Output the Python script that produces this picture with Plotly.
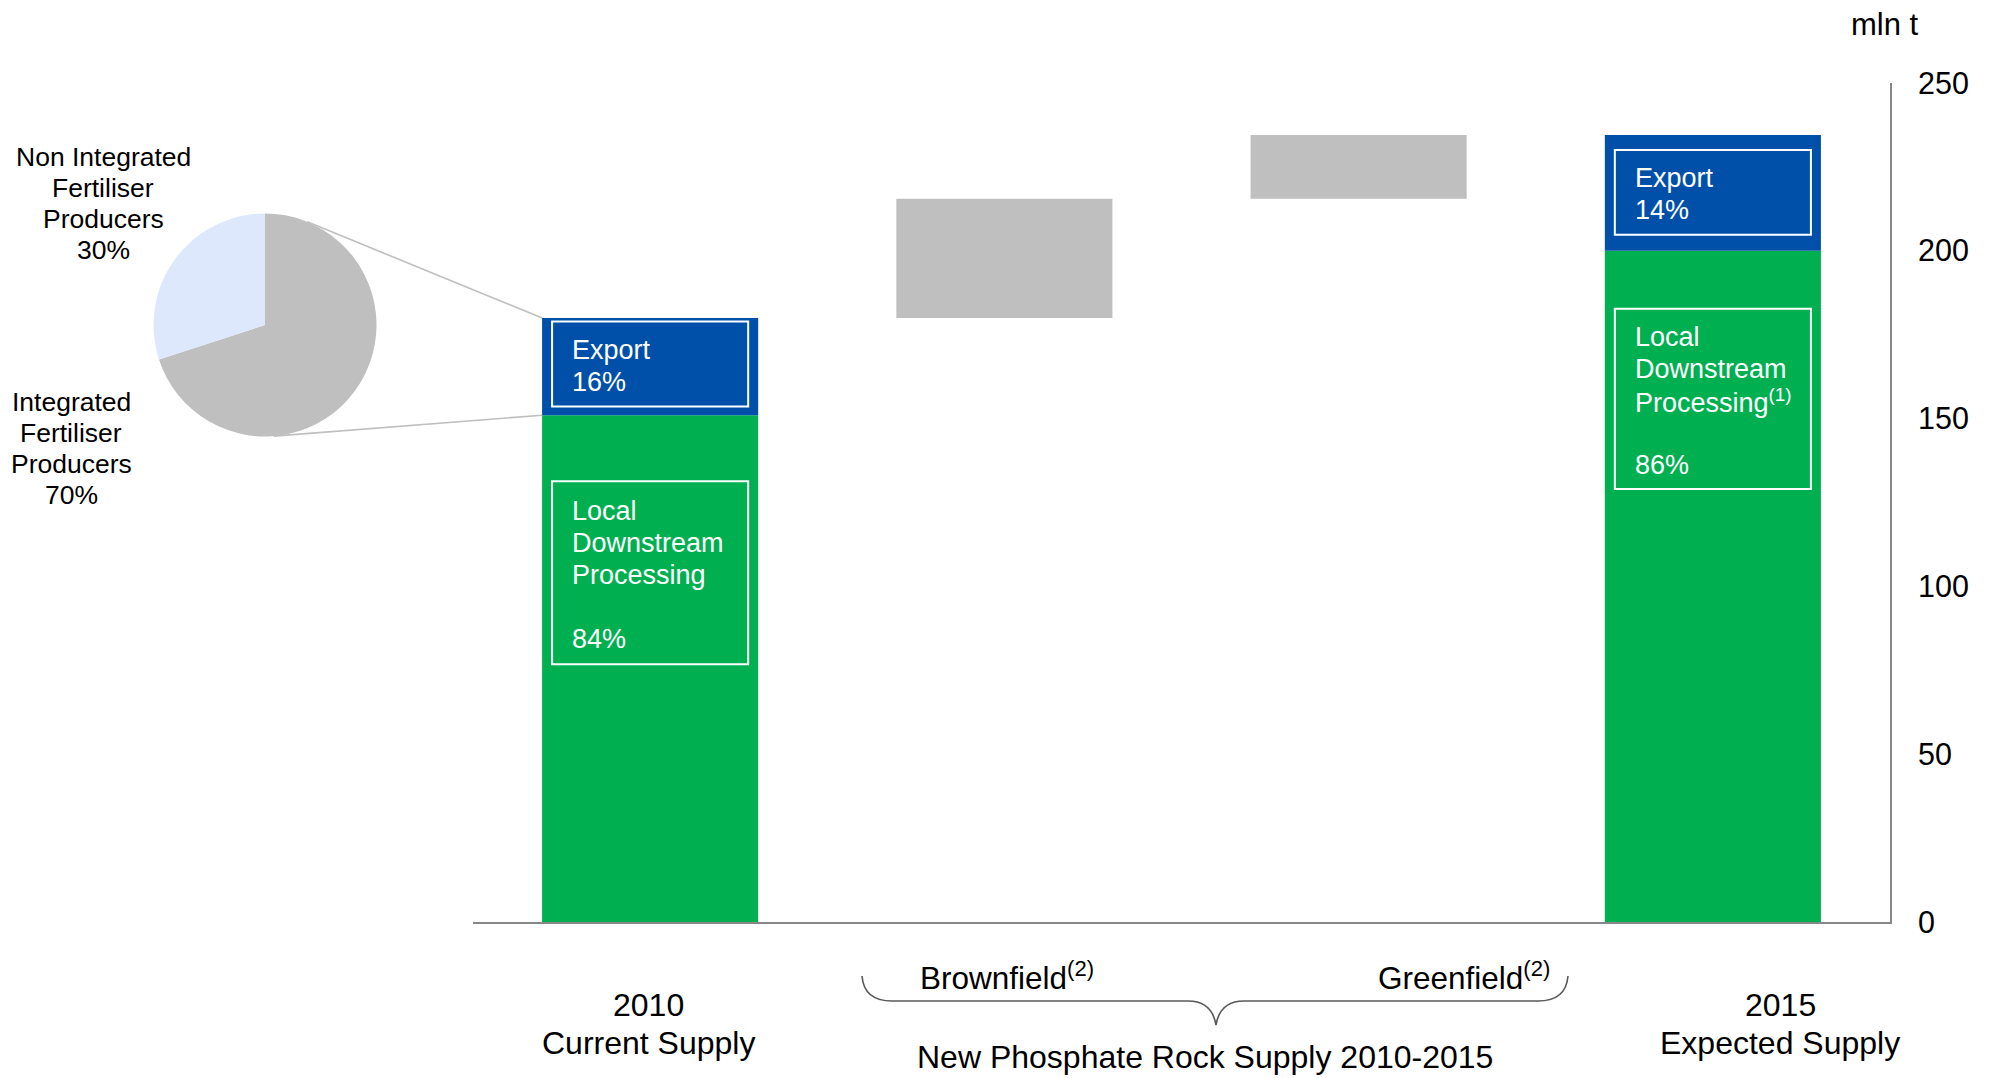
import math
import plotly.graph_objects as go

# ---------------- data ----------------
categories = ["2010 Current Supply", "Brownfield", "Greenfield", "2015 Expected Supply"]
local_values = [151, 200]          # Local Downstream Processing (2010, 2015), mln t
export_values = [29, 34.5]         # Export (2010, 2015), mln t
new_supply_values = [35.5, 19]     # Brownfield, Greenfield additions, mln t
export_share = ["16%", "14%"]
local_share = ["84%", "86%"]
pie_labels = ["Non Integrated Fertiliser Producers", "Integrated Fertiliser Producers"]
pie_values = [30, 70]
y_ticks = [0, 50, 100, 150, 200, 250]

# ---------------- layout constants (screen pixels) ----------------
W, H = 1995, 1078
OFF = 8                      # page body offset
PL, PR, PT, PB = 473, 1890, 83, 922
XMIN, XMAX, YMIN, YMAX = -0.5, 3.5, 0, 250
BAR_W = 0.61
FONT = "Liberation Sans, Arial, sans-serif"
GREEN, BLUE, GREY, LIGHT = "#00B050", "#0050AA", "#BFBFBF", "#DEE8FC"
AXIS_C = "#878787"

def fx(px):
    return (px - OFF) / W

def fy(py):
    return 1 - (py - OFF) / H

def data_px_x(v):
    return PL + (v - XMIN) / (XMAX - XMIN) * (PR - PL)

def data_px_y(v):
    return PB - (v - YMIN) / (YMAX - YMIN) * (PB - PT)

end_x = [categories[0], categories[3]]
total_2010 = local_values[0] + export_values[0]
new_bases = [total_2010, total_2010 + new_supply_values[0]]

fig = go.Figure()
fig.add_trace(go.Bar(x=end_x, y=local_values, base=[0, 0], width=BAR_W,
                     marker=dict(color=GREEN, line=dict(width=0)), hoverinfo="skip"))
fig.add_trace(go.Bar(x=end_x, y=export_values, base=local_values, width=BAR_W,
                     marker=dict(color=BLUE, line=dict(width=0)), hoverinfo="skip"))
fig.add_trace(go.Bar(x=categories[1:3], y=new_supply_values, base=new_bases, width=BAR_W,
                     marker=dict(color=GREY, line=dict(width=0)), hoverinfo="skip"))

# pie (integrated slice drawn first clockwise from 12 o'clock, non-integrated closes on the left)
PIE_CX, PIE_CY, PIE_R = 265, 325, 111.5
pie_colors = [LIGHT, GREY]
fig.add_trace(go.Pie(labels=pie_labels[::-1], values=pie_values[::-1], sort=False,
                     direction="clockwise", rotation=0,
                     marker=dict(colors=pie_colors[::-1], line=dict(width=0)),
                     textinfo="none", hoverinfo="skip", showlegend=False,
                     domain=dict(x=[fx(PIE_CX - PIE_R), fx(PIE_CX + PIE_R)],
                                 y=[fy(PIE_CY + PIE_R), fy(PIE_CY - PIE_R)])))

shapes = []
annotations = []

# white label boxes inside bars
box_spans = {0: [(153.6, 178.9), (76.8, 131.3)], 3: [(204.8, 230.0), (129.0, 182.7)]}
inset = 10 / (PR - PL) * (XMAX - XMIN)
for i, spans in box_spans.items():
    for (y0, y1) in spans:
        shapes.append(dict(type="rect", xref="x", yref="y",
                           x0=i - BAR_W / 2 + inset, x1=i + BAR_W / 2 - inset,
                           y0=y0, y1=y1, line=dict(color="white", width=2),
                           fillcolor="rgba(0,0,0,0)", layer="above"))

def add_lines(lines, x_px, y0_px, spacing, size, align="left", color="black"):
    for k, t in enumerate(lines):
        if not t:
            continue
        annotations.append(dict(text=t, x=fx(x_px), y=fy(y0_px + k * spacing),
                                xref="paper", yref="paper", showarrow=False,
                                xanchor=align, yanchor="middle",
                                font=dict(family=FONT, size=size, color=color)))

# bar box texts
for j, i in enumerate([0, 3]):
    left = data_px_x(i - BAR_W / 2) + 28
    exp_y0 = [350, 178][j]
    loc_y0 = [511, 337][j]
    sup = "" if i == 0 else "<sup>(1)</sup>"
    add_lines(["Export", export_share[j]], left, exp_y0, 32, 27, color="white")
    add_lines(["Local", "Downstream", "Processing" + sup, "", local_share[j]],
              left, loc_y0, 32, 27, color="white")

# pie labels
add_lines(["Non Integrated", "Fertiliser", "Producers", f"{pie_values[0]}%"], 103, 157, 31, 26.5, align="center")
add_lines(["Integrated", "Fertiliser", "Producers", f"{pie_values[1]}%"], 71, 402, 31, 26.5, align="center")

# connector lines from pie to 2010 bar
def tangent(px, py, upper):
    dx, dy = px - PIE_CX, py - PIE_CY
    d = math.hypot(dx, dy)
    th = math.atan2(dy, dx)
    a = math.acos(PIE_R / d)
    cands = [(PIE_CX + PIE_R * math.cos(th + s * a), PIE_CY + PIE_R * math.sin(th + s * a)) for s in (-1, 1)]
    cands.sort(key=lambda p: p[1])
    return cands[0] if upper else cands[1]

bar_left = data_px_x(0 - BAR_W / 2)
for val, upper in [(total_2010, True), (local_values[0], False)]:
    py = data_px_y(val)
    tx, ty = tangent(bar_left, py, upper)
    shapes.append(dict(type="line", xref="paper", yref="paper",
                       x0=fx(tx), y0=fy(ty), x1=fx(bar_left), y1=fy(py),
                       line=dict(color=GREY, width=1.6), layer="below"))

# bottom category labels
add_lines(["2010", "Current Supply"], 648, 1005, 38, 32, align="center")
add_lines(["2015", "Expected Supply"], 1780, 1005, 38, 32, align="center")
add_lines(["Brownfield<sup>(2)</sup>"], 918, 976, 0, 31.5, align="left")
add_lines(["Greenfield<sup>(2)</sup>"], 1552, 976, 0, 31.5, align="right")
add_lines(["New Phosphate Rock Supply 2010-2015"], 1205, 1057, 0, 32, align="center")
add_lines(["mln t"], 1885, 24, 0, 31, align="center")

# brace
def P(x, y):
    return f"{fx(x):.5f},{fy(y):.5f}"
bl, br, bt, bh, tipx, tipy = 862, 1568, 976, 1001, 1216, 1025
path = (f"M {P(bl, bt)} Q {P(bl + 2, bh)} {P(bl + 30, bh)} L {P(tipx - 28, bh)} "
        f"Q {P(tipx - 4, bh)} {P(tipx, tipy)} Q {P(tipx + 4, bh)} {P(tipx + 28, bh)} "
        f"L {P(br - 30, bh)} Q {P(br - 2, bh)} {P(br, bt)}")
shapes.append(dict(type="path", xref="paper", yref="paper", path=path,
                   line=dict(color="#595959", width=1.6)))

fig.update_layout(
    width=W, height=H, margin=dict(l=0, r=0, t=0, b=0, pad=0, autoexpand=False),
    paper_bgcolor="white", plot_bgcolor="white",
    barmode="overlay", showlegend=False,
    font=dict(family=FONT, color="black"),
    xaxis=dict(domain=[fx(PL), fx(PR)], range=[XMIN, XMAX], type="category",
               categoryorder="array", categoryarray=categories,
               showticklabels=False, ticks="", showgrid=False, zeroline=False,
               showline=True, linecolor=AXIS_C, linewidth=2, fixedrange=True,
               automargin=False),
    yaxis=dict(domain=[fy(PB), fy(PT)], range=[YMIN, YMAX], side="right",
               tickvals=y_ticks, ticks="", ticklabelstandoff=20,
               tickfont=dict(family=FONT, size=30.5, color="black"),
               showgrid=False, zeroline=False, showline=True,
               linecolor=AXIS_C, linewidth=2, fixedrange=True, automargin=False),
    shapes=shapes, annotations=annotations,
)

fig.write_html("out.html")
